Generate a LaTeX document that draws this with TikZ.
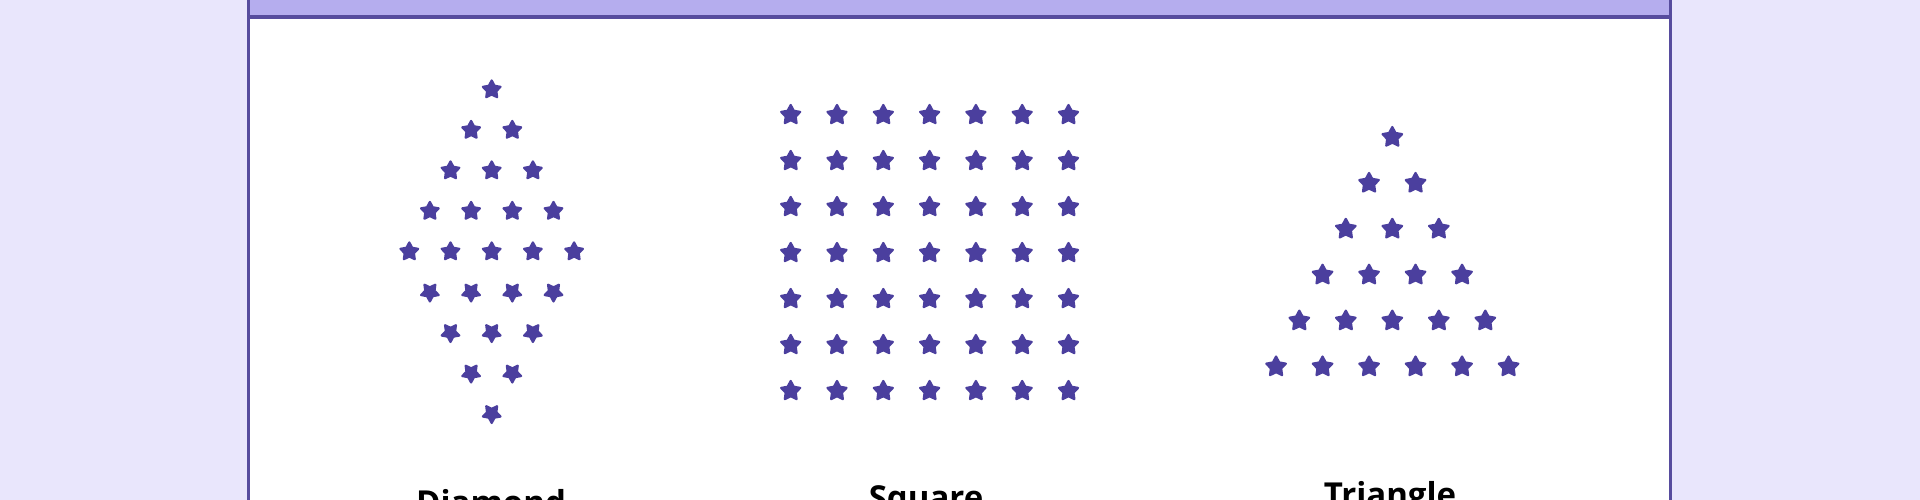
\documentclass[tikz,border=0pt]{standalone}
\usepackage{fontspec}
\setmainfont{Open Sans}
\usetikzlibrary{shapes.geometric}
\definecolor{bgc}{HTML}{E9E6FC}
\definecolor{hdr}{HTML}{B5ADEE}
\definecolor{brd}{HTML}{574C9E}
\definecolor{stc}{HTML}{4B3F9E}
\tikzset{
  starmark/.style={shape=star, star points=5, star point ratio=1.9, fill=stc, draw=stc, line width=2.2pt, line join=round, inner sep=0pt, minimum size=#1},
  starmark/.default=20pt,
  stardown/.style={starmark=#1, shape border rotate=180},
  stardown/.default=20pt,
  lbl/.style={anchor=base, font=\fontsize{33}{40}\selectfont\bfseries, text=black, inner sep=0pt}
}
\begin{document}
\begin{tikzpicture}[x=1pt,y=-1pt]
\useasboundingbox (0,0) rectangle (1920,500);
\fill[bgc] (0,0) rectangle (1920,500);
\fill[white] (248.5,17) rectangle (1670.5,510);
\fill[hdr] (248.5,-10) rectangle (1670.5,17);
\draw[brd, line width=3.2pt] (248.5,-10) -- (248.5,510);
\draw[brd, line width=3.2pt] (1670.5,-10) -- (1670.5,510);
\draw[brd, line width=3.2pt] (248.5,17) -- (1670.5,17);
% Diamond
\foreach \r in {1,...,9}{
  \pgfmathtruncatemacro{\n}{5-abs(\r-5)}
  \foreach \c in {1,...,\n}{
    \pgfmathsetmacro{\xx}{491.7+(\c-(\n+1)/2)*41.2}
    \pgfmathsetmacro{\yy}{251.7+(\r-5)*40.5}
    \ifnum\r>5
      \node[stardown=18.5pt] (d-\r-\c) at (\xx,\yy) {};
    \else
      \node[starmark=18.5pt] (d-\r-\c) at (\xx,\yy) {};
    \fi
  }
}
% Square
\foreach \r in {0,...,6}{
  \foreach \c in {0,...,6}{
    \node[starmark=20pt] (s-\r-\c) at ({790.7+\c*46.3},{115+\r*46}) {};
  }
}
% Triangle
\foreach \r in {1,...,6}{
  \foreach \c in {1,...,\r}{
    \pgfmathsetmacro{\xx}{1392.3+(\c-(\r+1)/2)*46.5}
    \pgfmathsetmacro{\yy}{137.3+(\r-1)*45.9}
    \node[starmark=20.5pt] (t-\r-\c) at (\xx,\yy) {};
  }
}
\node[lbl] (ldiamond) at (491,514) {Diamond};
\node[lbl] (lsquare) at (926,509) {Square};
\node[lbl] (ltriangle) at (1390,506) {Triangle};
\end{tikzpicture}
\end{document}
